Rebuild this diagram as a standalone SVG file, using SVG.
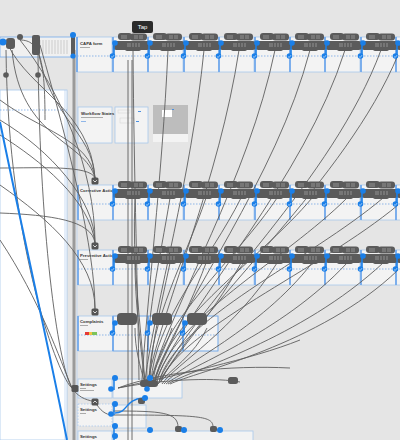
<svg xmlns="http://www.w3.org/2000/svg" xmlns:xlink="http://www.w3.org/1999/xlink" width="400" height="440" viewBox="0 0 400 440">
<style>
.fr{fill:#f3f3f3;stroke:#a9c8ec;stroke-width:0.8}
.dash{stroke:#4a8fe0;stroke-width:0.6;stroke-dasharray:1.5 1.5;fill:none}
.cn{fill:none;stroke:#5f5f5f;stroke-width:0.9}
.blob{fill:#5b5b5b}
.bl{fill:#1a7fe8}
.edge{fill:#74aaeb}
.lbl{font-family:"Liberation Sans",Arial,sans-serif;font-size:4.3px;font-weight:bold;fill:#333}
.tip{font-family:"Liberation Sans",Arial,sans-serif;font-size:6px;fill:#fff}
.ico{fill:#555}
</style>
<defs>
<g id="frm">
<rect class="fr" x="0" y="0" width="35" height="35"/>
<path class="dash" d="M0 19H35"/>
<rect class="edge" x="-0.9" y="0" width="1.8" height="35"/>
</g>
<g id="hd">
<rect class="blob" x="5" y="-4" width="14" height="7" rx="3"/>
<rect class="blob" x="17" y="-3.5" width="17" height="7" rx="3"/>
<rect class="blob" x="0" y="4" width="37" height="9" rx="3.5"/>
<rect class="blob" x="12" y="10" width="16" height="4" rx="2"/>
<path d="M9 -2v4M11 -2v4M13 -2v4M22 -2v4M24 -2v4M27 -2v4M29 -2v4M15 6v4M17 6v4M20 6v4M23 6v4M26 6v4" stroke="#c9c9c9" stroke-width="0.5"/>
<path d="M1 6V19" stroke="#1a7fe8" stroke-width="1.6"/>
<circle class="bl" cx="2" cy="6" r="2.8"/>
<circle class="bl" cx="-0.5" cy="19" r="2.8"/>
<path d="M-1.8 19.6l1 0.9 1.8-2.3" stroke="#fff" stroke-width="0.6" fill="none"/>
</g>
<g id="hds">
<rect class="blob" x="4" y="-4" width="20" height="12" rx="4"/>
<path d="M1 6V16" stroke="#1a7fe8" stroke-width="1.6"/>
<circle class="bl" cx="2" cy="6" r="2.8"/>
<circle class="bl" cx="-0.5" cy="16" r="2.8"/>
<path d="M-1.8 16.6l1 0.9 1.8-2.3" stroke="#fff" stroke-width="0.6" fill="none"/>
</g>
<g id="chev">
<rect class="ico" x="-3.5" y="-3.5" width="7" height="7" rx="1.5"/>
<path d="M-1.8 -0.8l1.8 1.8 1.8-1.8" stroke="#fff" stroke-width="0.8" fill="none"/>
</g>
</defs>
<rect width="400" height="440" fill="#e5e5e5"/>

<g id="left-panel">
<rect x="0" y="90" width="67" height="350" fill="#ffffff" stroke="#a9c8ec" stroke-width="0.8"/>
<path d="M65 90V440" stroke="#a9c8ec" stroke-width="0.6"/>
<path class="dash" d="M0 110H67"/>
<rect x="72.5" y="50" width="3" height="390" fill="#9a9a9a"/>
<path d="M77 37V440" stroke="#a9c8ec" stroke-width="0.6"/>
</g>

<g id="top-strip">
<rect x="0" y="37" width="72" height="20" fill="#f0f0f0" stroke="#74aaeb" stroke-width="0.8"/>
<path d="M40 40v14M43 40v14M46 40v14M49 40v14M52 40v14M55 40v14M58 40v14M61 40v14M64 40v14M67 40v14" stroke="#d2d2d2" stroke-width="1.2"/>
</g>

<g id="capa-form">
<use xlink:href="#frm" x="77" y="37"/>
<text class="lbl" x="80" y="45">CAPA form</text>
<rect x="80" y="47" width="10" height="1" fill="#aaa"/>
</g>
<g id="row1">
<use xlink:href="#frm" x="113" y="37"/>
<use xlink:href="#frm" x="148" y="37"/>
<use xlink:href="#frm" x="184" y="37"/>
<use xlink:href="#frm" x="219" y="37"/>
<use xlink:href="#frm" x="255" y="37"/>
<use xlink:href="#frm" x="290" y="37"/>
<use xlink:href="#frm" x="325" y="37"/>
<use xlink:href="#frm" x="361" y="37"/>
<use xlink:href="#frm" x="396" y="37"/>
</g>

<g id="workflow-states">
<rect class="fr" x="78" y="107" width="34" height="36" stroke="none"/>
<text class="lbl" x="81" y="115">Workflow States</text>
<rect x="81" y="117" width="22" height="1" fill="#aaa"/>
<rect x="81" y="121" width="5" height="1" fill="#8fb6e8"/>
<rect class="fr" x="115" y="107" width="33" height="36" stroke="none"/>
<rect x="118" y="110" width="12" height="3" fill="none" stroke="#ccc" stroke-width="0.4"/>
<rect x="138" y="111" width="3" height="1" fill="#4a8fe0"/>
<rect x="120" y="118" width="14" height="5" fill="none" stroke="#ccc" stroke-width="0.4"/>
<rect x="136" y="121" width="3" height="1" fill="#4a8fe0"/>
<rect x="153" y="105" width="35" height="37" fill="#f3f3f3"/>
<rect x="153" y="105" width="35" height="29" fill="#bdbdbd"/>
<rect x="162" y="110" width="10" height="7" fill="#ffffff"/>
<rect x="172" y="109" width="2" height="1" fill="#4a8fe0"/>
</g>

<g id="corrective-action">
<use xlink:href="#frm" x="78" y="185"/>
<text class="lbl" x="80" y="192">Corrective Action</text>
<use xlink:href="#frm" x="113" y="185"/>
<use xlink:href="#frm" x="148" y="185"/>
<use xlink:href="#frm" x="184" y="185"/>
<use xlink:href="#frm" x="219" y="185"/>
<use xlink:href="#frm" x="255" y="185"/>
<use xlink:href="#frm" x="290" y="185"/>
<use xlink:href="#frm" x="325" y="185"/>
<use xlink:href="#frm" x="361" y="185"/>
<use xlink:href="#frm" x="396" y="185"/>
</g>

<g id="preventive-action">
<use xlink:href="#frm" x="78" y="250"/>
<text class="lbl" x="80" y="257">Preventive Action</text>
<rect x="80" y="259" width="8" height="1" fill="#aaa"/>
<use xlink:href="#frm" x="113" y="250"/>
<use xlink:href="#frm" x="148" y="250"/>
<use xlink:href="#frm" x="184" y="250"/>
<use xlink:href="#frm" x="219" y="250"/>
<use xlink:href="#frm" x="255" y="250"/>
<use xlink:href="#frm" x="290" y="250"/>
<use xlink:href="#frm" x="325" y="250"/>
<use xlink:href="#frm" x="361" y="250"/>
<use xlink:href="#frm" x="396" y="250"/>
</g>

<g id="complaints">
<use xlink:href="#frm" x="78" y="316"/>
<text class="lbl" x="80" y="323">Complaints</text>
<rect x="80" y="325" width="8" height="1" fill="#aaa"/>
<rect x="85" y="332" width="4" height="3" fill="#e53935"/>
<rect x="89" y="332" width="3" height="3" fill="#f5c242"/>
<rect x="92" y="332" width="5" height="3" fill="#7cc35a"/>
<use xlink:href="#frm" x="113" y="316"/>
<use xlink:href="#frm" x="148" y="316"/>
<use xlink:href="#frm" x="183" y="316"/>
<rect x="113" y="316" width="105" height="35" fill="none" stroke="#74aaeb" stroke-width="0.7"/>
</g>

<g id="settings-1">
<rect class="fr" x="78" y="379" width="34" height="19"/>
<text class="lbl" x="80" y="386">Settings</text>
<rect x="80" y="388" width="6" height="1" fill="#aaa"/>
<rect x="80" y="390" width="14" height="1" fill="#aaa"/>
<rect class="fr" x="113" y="379" width="69" height="19" stroke="#74aaeb"/>
</g>
<g id="settings-2">
<rect class="fr" x="78" y="404" width="34" height="22" stroke="#4a8fe0" stroke-dasharray="1.5 1.5"/>
<text class="lbl" x="80" y="411">Settings</text>
<rect x="80" y="413" width="6" height="1" fill="#aaa"/>
<rect class="fr" x="113" y="405" width="33" height="23"/>
</g>
<g id="settings-3">
<rect class="fr" x="78" y="431" width="34" height="12"/>
<text class="lbl" x="80" y="438">Settings</text>
<rect class="fr" x="113" y="431" width="140" height="12" stroke="#74aaeb"/>
</g>

<g id="connectors">
<path class="cn" d="M128 60V440M132 60V440"/>
<path class="cn" d="M8 45C30 90 90 110 95 178"/>
<path class="cn" d="M12 50C20 140 85 140 95 178"/>
<path class="cn" d="M38 50C50 120 92 130 95 178"/>
<path class="cn" d="M0 168C40 168 90 165 95 178"/>
<path class="cn" d="M0 100C40 130 90 140 95 178"/>
<path class="cn" d="M0 135C40 160 90 200 95 243"/>
<path class="cn" d="M0 213C50 215 92 220 95 243"/>
<path class="cn" d="M20 40C60 90 95 170 95 243"/>
<path class="cn" d="M0 120C50 150 95 200 95 243"/>
<path class="cn" d="M40 45C70 150 95 250 95 309"/>
<path class="cn" d="M0 185C50 220 95 260 95 309"/>
<path class="cn" d="M6 50C8 250 60 380 72 388"/>
<path class="cn" d="M38 55C40 250 60 370 72 388"/>
<path class="cn" d="M0 240C40 300 60 360 72 388"/>
<path class="cn" d="M20 40C40 40 45 60 45 120"/>
<path class="cn" d="M72 388C80 400 90 400 95 402"/>
<path class="cn" d="M133 50C134 180 138 300 139 380"/>
<path class="cn" d="M168 50C162 180 147 300 142 380"/>
<path class="cn" d="M204 50C191 180 156 300 145 380"/>
<path class="cn" d="M239 50C219 180 165 300 148 380"/>
<path class="cn" d="M275 50C248 180 174 300 151 380"/>
<path class="cn" d="M310 50C276 180 182 300 154 380"/>
<path class="cn" d="M345 50C304 180 191 300 156 380"/>
<path class="cn" d="M381 50C333 180 200 300 159 380"/>
<path class="cn" d="M398 55C346 180 205 300 161 380"/>
<path class="cn" d="M135 198C132 260 140 320 145 382"/>
<path class="cn" d="M170 198C160 260 145 320 147 382"/>
<path class="cn" d="M206 198C185 260 150 320 149 382"/>
<path class="cn" d="M241 198C210 260 155 320 151 382"/>
<path class="cn" d="M277 198C236 260 160 320 153 382"/>
<path class="cn" d="M312 198C260 260 165 320 155 382"/>
<path class="cn" d="M347 198C285 260 170 320 157 382"/>
<path class="cn" d="M383 198C310 260 175 320 159 382"/>
<path class="cn" d="M398 205C320 270 178 330 161 382"/>
<path class="cn" d="M135 263C135 300 140 340 145 384"/>
<path class="cn" d="M170 263C160 310 150 350 150 384"/>
<path class="cn" d="M206 263C185 320 160 360 154 384"/>
<path class="cn" d="M241 263C210 320 170 360 158 384"/>
<path class="cn" d="M277 263C235 330 175 365 162 384"/>
<path class="cn" d="M312 263C260 330 180 365 164 384"/>
<path class="cn" d="M347 263C280 335 185 368 166 384"/>
<path class="cn" d="M383 263C300 340 190 370 168 384"/>
<path class="cn" d="M398 270C320 345 195 372 170 384"/>
<path class="cn" d="M135 328C135 350 140 365 145 384"/>
<path class="cn" d="M172 328C165 350 155 365 150 384"/>
<path class="cn" d="M207 328C195 355 170 370 156 386"/>
<path class="cn" d="M118 388C160 372 230 365 290 368"/>
<path class="cn" d="M118 388C170 378 220 378 240 382"/>
<path class="cn" d="M118 388C175 375 250 360 300 340"/>
<path class="cn" d="M113 411C160 411 178 412 178 427"/>
<path class="cn" d="M113 415C200 415 213 416 213 427"/>
<path class="cn" d="M95 402C100 410 105 415 113 415"/>
<path d="M115 413C128 413 125 399 143 398" fill="none" stroke="#1a7fe8" stroke-width="1.5"/>
<path d="M0 122C20 220 45 330 67 440" fill="none" stroke="#1a7fe8" stroke-width="2"/>
<path d="M73 37V56" stroke="#1a7fe8" stroke-width="1.6"/>
</g>

<g id="hotspots">
<circle class="blob" cx="20" cy="37" r="3"/>
<circle class="blob" cx="6" cy="75" r="2.8"/>
<circle class="blob" cx="38" cy="75" r="2.8"/>
<rect class="blob" x="6" y="38" width="9" height="11" rx="3"/>
<rect class="blob" x="32" y="35" width="8" height="20" rx="2"/>
<circle class="bl" cx="3" cy="42" r="3.5"/>
<rect class="blob" x="71" y="35" width="4" height="20"/>
<circle class="bl" cx="73" cy="35" r="3"/>
<circle class="bl" cx="73" cy="56" r="2.6"/>
<use xlink:href="#hd" x="113" y="37"/>
<use xlink:href="#hd" x="148" y="37"/>
<use xlink:href="#hd" x="184" y="37"/>
<use xlink:href="#hd" x="219" y="37"/>
<use xlink:href="#hd" x="255" y="37"/>
<use xlink:href="#hd" x="290" y="37"/>
<use xlink:href="#hd" x="325" y="37"/>
<use xlink:href="#hd" x="361" y="37"/>
<use xlink:href="#hd" x="396" y="37"/>
<use xlink:href="#hd" x="113" y="185"/>
<use xlink:href="#hd" x="148" y="185"/>
<use xlink:href="#hd" x="184" y="185"/>
<use xlink:href="#hd" x="219" y="185"/>
<use xlink:href="#hd" x="255" y="185"/>
<use xlink:href="#hd" x="290" y="185"/>
<use xlink:href="#hd" x="325" y="185"/>
<use xlink:href="#hd" x="361" y="185"/>
<use xlink:href="#hd" x="396" y="185"/>
<use xlink:href="#hd" x="113" y="250"/>
<use xlink:href="#hd" x="148" y="250"/>
<use xlink:href="#hd" x="184" y="250"/>
<use xlink:href="#hd" x="219" y="250"/>
<use xlink:href="#hd" x="255" y="250"/>
<use xlink:href="#hd" x="290" y="250"/>
<use xlink:href="#hd" x="325" y="250"/>
<use xlink:href="#hd" x="361" y="250"/>
<use xlink:href="#hd" x="396" y="250"/>
<use xlink:href="#hds" x="113" y="317"/>
<use xlink:href="#hds" x="148" y="317"/>
<use xlink:href="#hds" x="183" y="317"/>
<use xlink:href="#chev" x="95" y="181"/>
<use xlink:href="#chev" x="95" y="246"/>
<use xlink:href="#chev" x="95" y="312"/>
<rect class="ico" x="71.5" y="385" width="7" height="7" rx="1.5"/>
<g transform="translate(95 402) rotate(180)"><use xlink:href="#chev"/></g>
<rect class="blob" x="140" y="380" width="18" height="7" rx="3"/>
<rect class="blob" x="228" y="377" width="10" height="7" rx="2.5"/>
<rect class="blob" x="138" y="398" width="7" height="6" rx="2"/>
<rect class="blob" x="175" y="426" width="7" height="6" rx="2"/>
<rect class="blob" x="210" y="426" width="7" height="6" rx="2"/>
<path d="M114 378V390M114 404V415M114 426V440" stroke="#1a7fe8" stroke-width="1.5"/>
<circle class="bl" cx="115" cy="378" r="3"/>
<circle class="bl" cx="111" cy="389" r="2.8"/>
<circle class="bl" cx="150" cy="378" r="3"/>
<circle class="bl" cx="147" cy="389" r="2.8"/>
<circle class="bl" cx="145" cy="398" r="3"/>
<circle class="bl" cx="115" cy="404" r="3"/>
<circle class="bl" cx="111" cy="414" r="2.8"/>
<circle class="bl" cx="115" cy="426" r="3"/>
<circle class="bl" cx="115" cy="436" r="3"/>
<circle class="bl" cx="150" cy="430" r="3"/>
<circle class="bl" cx="184" cy="430" r="3"/>
<circle class="bl" cx="220" cy="430" r="3"/>
</g>

<g id="tap-tooltip">
<rect x="132" y="21" width="21" height="12" rx="2" fill="#2b2b2b"/>
<text class="tip" x="142.5" y="29.3" text-anchor="middle">Tap</text>
</g>
</svg>
